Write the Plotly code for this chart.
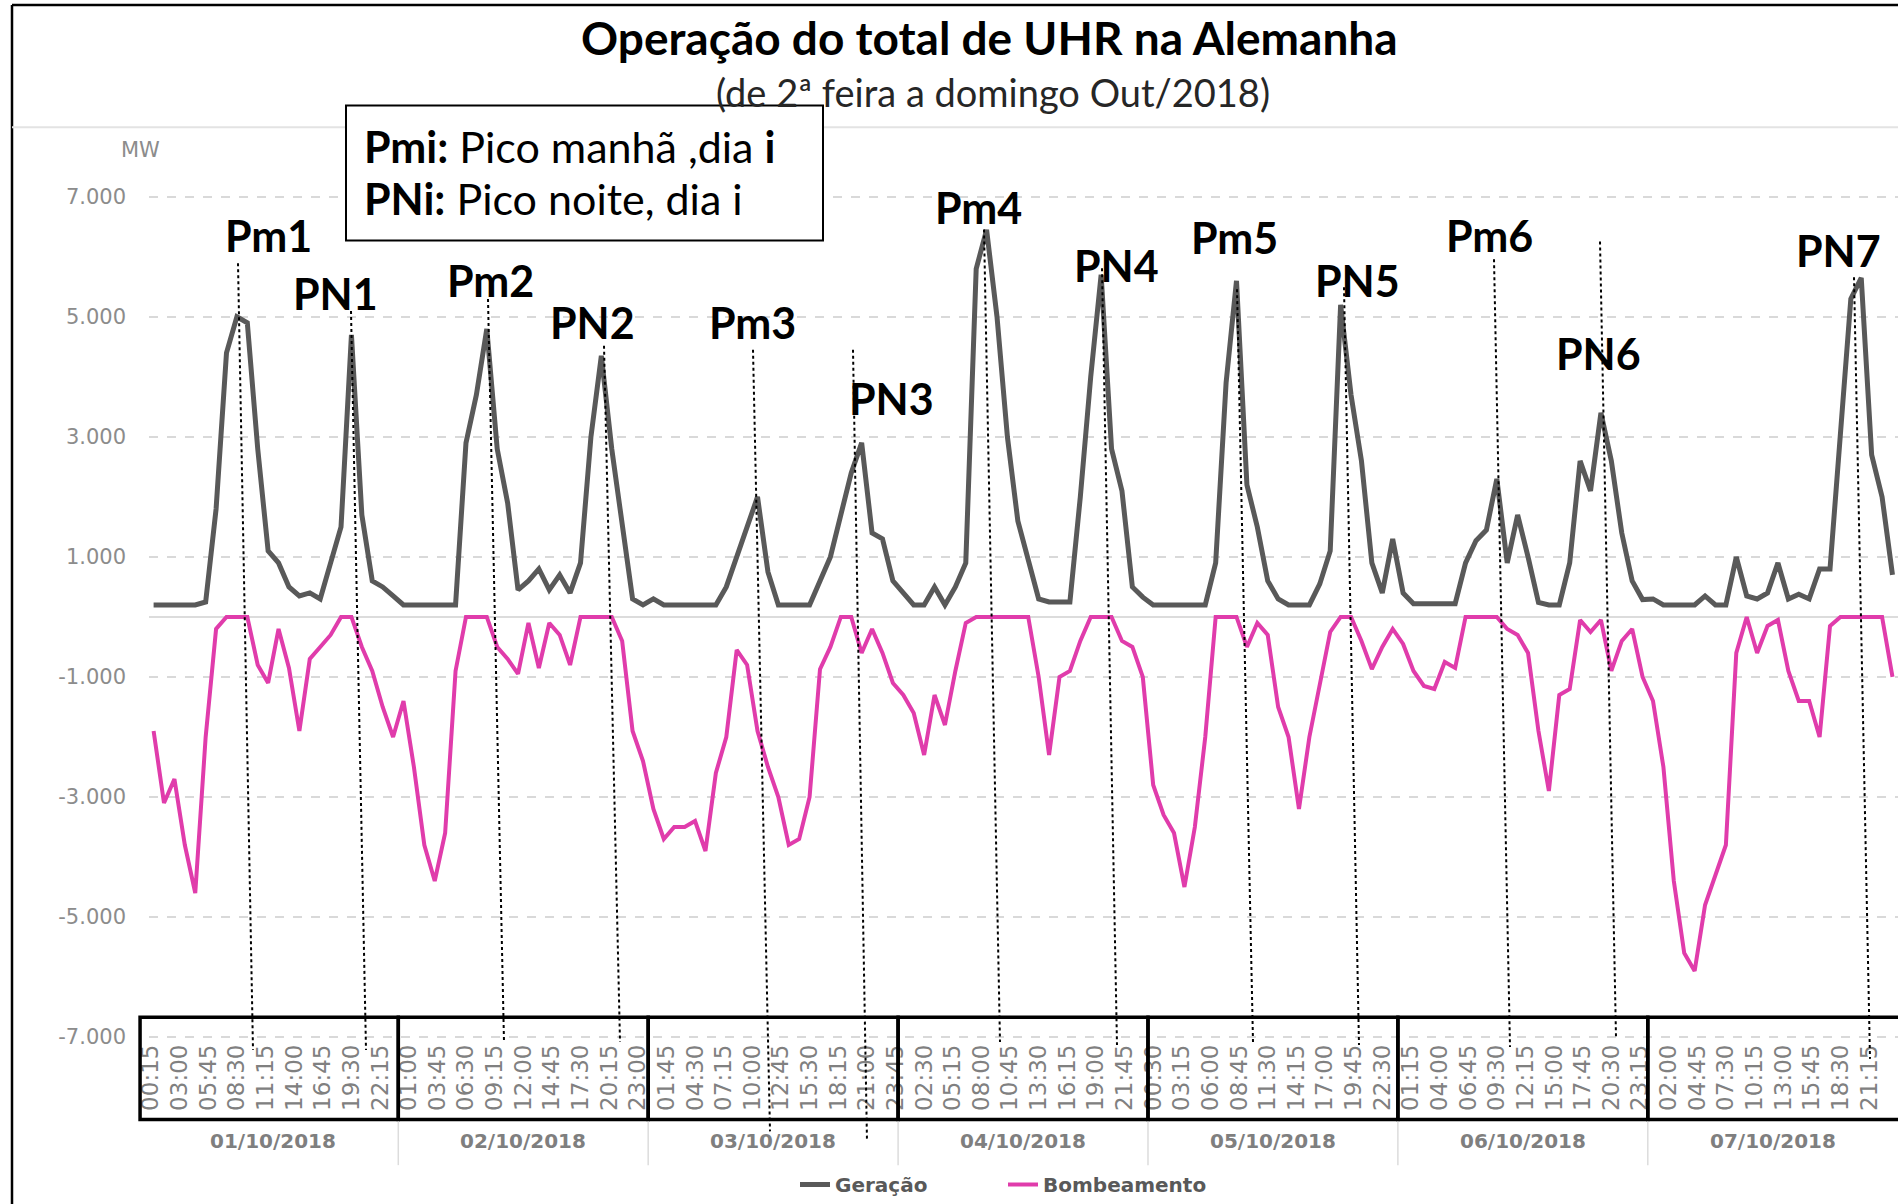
import plotly.graph_objects as go

# ---- data (MW, one value per hour, sampled at hh:30) ----
gen_d1 = [200, 200, 200, 200, 200, 250, 1800, 4400, 5000, 4900, 2800, 1100, 900, 500, 350, 400, 300, 900, 1500, 4700, 1700, 600, 500, 350]
gen_d2 = [200, 200, 200, 200, 200, 200, 2900, 3700, 4800, 2800, 1900, 450, 600, 800, 450, 700, 400, 900, 3000, 4350, 2800, 1500, 300, 200]
gen_d3 = [300, 200, 200, 200, 200, 200, 200, 500, 1000, 1500, 2000, 750, 200, 200, 200, 200, 600, 1000, 1700, 2400, 2900, 1400, 1300, 600]
gen_d4 = [400, 200, 200, 500, 200, 500, 900, 5800, 6450, 5000, 3000, 1600, 950, 300, 250, 250, 250, 2000, 4000, 5700, 2800, 2100, 500, 330]
gen_d5 = [200, 200, 200, 200, 200, 200, 900, 3900, 5600, 2200, 1500, 600, 300, 200, 200, 200, 550, 1100, 5200, 3700, 2600, 900, 400, 1300]
gen_d6 = [400, 220, 220, 220, 220, 220, 900, 1270, 1450, 2300, 900, 1700, 1000, 240, 200, 200, 900, 2600, 2100, 3400, 2600, 1400, 600, 290]
gen_d7 = [300, 200, 200, 200, 200, 350, 200, 200, 1000, 350, 300, 400, 900, 300, 380, 300, 800, 800, 3000, 5300, 5650, 2700, 2000, 700]

pump_d1 = [-1900, -3100, -2700, -3800, -4600, -2000, -200, 0, 0, 0, -800, -1100, -200, -850, -1900, -700, -500, -300, 0, 0, -500, -900, -1500, -2000]
pump_d2 = [-1400, -2500, -3800, -4400, -3600, -900, 0, 0, 0, -500, -700, -950, -100, -850, -100, -300, -800, 0, 0, 0, 0, -400, -1900, -2400]
pump_d3 = [-3200, -3700, -3500, -3500, -3400, -3900, -2600, -2000, -550, -800, -1900, -2500, -3000, -3800, -3700, -3000, -870, -500, 0, 0, -600, -200, -600, -1100]
pump_d4 = [-1300, -1600, -2300, -1300, -1800, -900, -100, 0, 0, 0, 0, 0, 0, -1000, -2300, -1000, -900, -400, 0, 0, 0, -400, -500, -1000]
pump_d5 = [-2800, -3300, -3600, -4500, -3500, -2000, 0, 0, 0, -500, -100, -300, -1500, -2000, -3200, -2000, -1100, -250, 0, 0, -400, -870, -500, -200]
pump_d6 = [-450, -900, -1150, -1200, -750, -850, 0, 0, 0, 0, -200, -300, -600, -1900, -2900, -1300, -1200, -50, -250, -50, -900, -400, -200, -1000]
pump_d7 = [-1400, -2500, -4400, -5600, -5900, -4800, -4300, -3800, -600, 0, -600, -150, -50, -900, -1400, -1400, -2000, -150, 0, 0, 0, 0, 0, -1000]

days = ["01/10/2018", "02/10/2018", "03/10/2018", "04/10/2018",
        "05/10/2018", "06/10/2018", "07/10/2018"]
y_ticks = [7000, 5000, 3000, 1000, -1000, -3000, -5000, -7000]
y_labels = ["7.000", "5.000", "3.000", "1.000", "-1.000", "-3.000", "-5.000", "-7.000"]

geracao = gen_d1 + gen_d2 + gen_d3 + gen_d4 + gen_d5 + gen_d6 + gen_d7
bombeamento = pump_d1 + pump_d2 + pump_d3 + pump_d4 + pump_d5 + pump_d6 + pump_d7
hours = [h + 0.5 for h in range(len(geracao))]

# time-of-day category labels (15 min grid, every 11th shown as in Excel)
tick_min = [15 + 165 * i for i in range(62)]
tick_vals = [m / 60 for m in tick_min]
tick_text = [f"{(m // 60) % 24:02d}:{m % 60:02d}" for m in tick_min]

# ---- page geometry (pixels) ----
W, H = 1898, 1204
PL, PR, PT, PB = 149, 1898, 165, 1045
X0, X1 = 0.058, 168.03
Y0, Y1 = -7032, 7530


def fx(px):
    return (px - PL) / (PR - PL)


def fy(py):
    return (PB - py) / (PB - PT)


def hx(h):
    return (h - X0) / (X1 - X0)


# peak marks: label centre, dotted line top, dotted line bottom (px)
peaks = [
    ("Pm1", (268, 236), (238, 264), (253, 1056)),
    ("PN1", (335, 294), (351, 312), (366, 1056)),
    ("Pm2", (490, 281), (488, 300), (504, 1048)),
    ("PN2", (592, 324), (604, 347), (620, 1048)),
    ("Pm3", (752, 324), (753, 351), (770, 1138)),
    ("PN3", (891, 400), (853, 351), (867, 1148)),
    ("Pm4", (978, 208), (984, 230), (1000, 1048)),
    ("PN4", (1116, 266), (1102, 269), (1117, 1051)),
    ("Pm5", (1234, 238), (1237, 290), (1253, 1048)),
    ("PN5", (1357, 281), (1344, 288), (1359, 1051)),
    ("Pm6", (1489, 236), (1494, 260), (1510, 1053)),
    ("PN6", (1598, 355), (1600, 242), (1616, 1043)),
    ("PN7", (1838, 251), (1854, 278), (1870, 1065)),
]

fig = go.Figure()
fig.add_trace(go.Scatter(x=hours, y=geracao, name="<b>Geração</b>", mode="lines",
                         line=dict(color="#595959", width=5)))
fig.add_trace(go.Scatter(x=hours, y=bombeamento, name="<b>Bombeamento</b>", mode="lines",
                         line=dict(color="#E03CAB", width=4)))

shapes = []
annotations = []

# outer frame of the screenshot and the title separator
shapes.append(dict(type="line", xref="paper", yref="paper", x0=fx(12), x1=fx(12),
                   y0=fy(4), y1=fy(H + 10), line=dict(color="black", width=2.5)))
shapes.append(dict(type="line", xref="paper", yref="paper", x0=fx(12), x1=fx(W + 10),
                   y0=fy(4), y1=fy(4), line=dict(color="black", width=2.5)))
shapes.append(dict(type="line", xref="paper", yref="paper", x0=fx(12), x1=fx(W + 10),
                   y0=fy(127), y1=fy(127), line=dict(color="#e3e3e3", width=2)))

# day boxes round the time labels
bounds = [-0.8] + [24 * d for d in range(1, 7)] + [176]
for d in range(7):
    shapes.append(dict(type="rect", xref="paper", yref="paper",
                       x0=hx(bounds[d]), x1=hx(bounds[d + 1]), y0=fy(1126), y1=fy(1023),
                       line=dict(color="black", width=3.5)))
    annotations.append(dict(text=f"<b>{days[d]}</b>", x=hx(24 * d + 12), y=fy(1148),
                            xref="paper", yref="paper", showarrow=False,
                            font=dict(family="DejaVu Sans", size=20, color="#7f7f7f"),
                            xanchor="center", yanchor="middle"))
for d in range(1, 7):
    shapes.append(dict(type="line", xref="paper", yref="paper", x0=hx(24 * d), x1=hx(24 * d),
                       y0=fy(1128), y1=fy(1172), line=dict(color="#dcdcdc", width=1.5)))

# peak labels with dotted guide lines
for name, lab, top, bot in peaks:
    shapes.append(dict(type="line", xref="paper", yref="paper", x0=fx(top[0]), y0=fy(top[1]),
                       x1=fx(bot[0]), y1=fy(bot[1]), line=dict(color="black", width=2, dash="dot")))
    annotations.append(dict(text=f"<b>{name}</b>", x=fx(lab[0]), y=fy(lab[1]), xref="paper", yref="paper",
                            showarrow=False, font=dict(family="Lato", size=43, color="black"),
                            xanchor="center", yanchor="middle"))

# key box
shapes.append(dict(type="rect", xref="paper", yref="paper", x0=fx(346), x1=fx(823),
                   y0=fy(241), y1=fy(105), fillcolor="white", line=dict(color="black", width=2)))
annotations.append(dict(text="<b>Pmi:</b> Pico manhã ,dia <b>i</b>", x=fx(362), y=fy(146),
                        xref="paper", yref="paper", showarrow=False, xanchor="left", yanchor="middle",
                        font=dict(family="Lato", size=43, color="black")))
annotations.append(dict(text="<b>PNi:</b> Pico noite, dia i", x=fx(362), y=fy(199),
                        xref="paper", yref="paper", showarrow=False, xanchor="left", yanchor="middle",
                        font=dict(family="Lato", size=43, color="black")))

# titles and unit
annotations.append(dict(text="<b>Operação do total de UHR na Alemanha</b>", x=fx(989), y=fy(37),
                        xref="paper", yref="paper", showarrow=False, xanchor="center", yanchor="middle",
                        font=dict(family="Lato", size=46, color="black")))
annotations.append(dict(text="(de 2ª feira a domingo Out/2018)", x=fx(993), y=fy(91),
                        xref="paper", yref="paper", showarrow=False, xanchor="center", yanchor="middle",
                        font=dict(family="Lato", size=38, color="#262626")))
annotations.append(dict(text="MW", x=fx(140), y=fy(150), xref="paper", yref="paper",
                        showarrow=False, xanchor="center", yanchor="middle",
                        font=dict(family="DejaVu Sans", size=21, color="#8c8c8c")))

fig.update_layout(
    width=W, height=H,
    margin=dict(l=PL, r=W - PR, t=PT, b=H - PB, pad=0),
    paper_bgcolor="white", plot_bgcolor="white",
    shapes=shapes, annotations=annotations,
    showlegend=True,
    legend=dict(orientation="h", x=fx(795), y=fy(1192), xanchor="left", yanchor="middle",
                font=dict(family="DejaVu Sans", size=20, color="#595959"),
                bgcolor="rgba(0,0,0,0)", entrywidth=163),
    xaxis=dict(range=[X0, X1], tickmode="array", tickvals=tick_vals, ticktext=tick_text,
               tickangle=-90, showgrid=False, zeroline=False, showline=False, ticks="",
               tickfont=dict(family="DejaVu Sans", size=23, color="#808080")),
    yaxis=dict(range=[Y0, Y1], tickmode="array", tickvals=y_ticks, ticktext=y_labels,
               showgrid=True, gridcolor="#d9d9d9", griddash="dash", gridwidth=1.5,
               zeroline=True, zerolinecolor="#dcdcdc", zerolinewidth=2, showline=False,
               ticks="", ticklabelstandoff=22,
               tickfont=dict(family="DejaVu Sans", size=21, color="#8c8c8c")),
)

fig.write_html("out.html", config={"displayModeBar": False},
               post_script="document.body.style.margin='0';document.body.style.overflow='hidden';")
